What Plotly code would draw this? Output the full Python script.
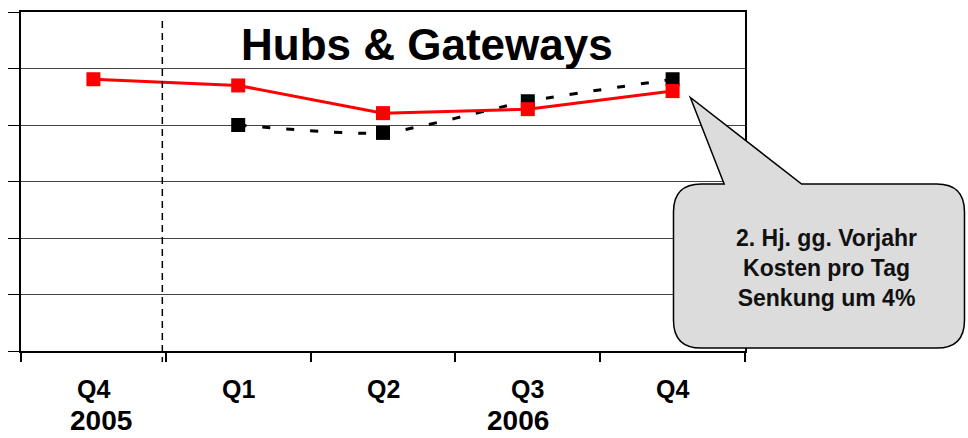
import plotly.graph_objects as go

# Quarter labels and the two cost series (cost per day, index units)
quarters = ["Q4", "Q1", "Q2", "Q3", "Q4"]
years = ["2005", "2006"]
actual = [4.81, 4.70, 4.21, 4.28, 4.60]          # red series
previous = [None, 4.00, 3.86, 4.42, 4.81]        # black dashed series
y_ticks = [0, 1, 2, 3, 4, 5, 6]
note_lines = ["2. Hj. gg. Vorjahr", "Kosten pro Tag", "Senkung um 4%"]

W, H = 968, 438
ML, MR, MT, MB = 16, 223, 10, 87
PW, PH = W - ML - MR, H - MT - MB
FONT = "Liberation Sans, Arial, sans-serif"


def px(x):
    return (x - ML) / PW


def py(y):
    return (H - MB - y) / PH


xpos = list(range(len(quarters)))

fig = go.Figure()
fig.add_trace(go.Scatter(
    x=xpos, y=previous, mode="lines+markers",
    line=dict(color="black", width=3, dash="8px,16px", shape="spline", smoothing=0.6),
    marker=dict(symbol="square", size=14, color="black"),
    connectgaps=False, showlegend=False, hoverinfo="skip",
))
fig.add_trace(go.Scatter(
    x=xpos, y=actual, mode="lines+markers",
    line=dict(color="#ff0000", width=3),
    marker=dict(symbol="square", size=14, color="#ff0000"),
    showlegend=False, hoverinfo="skip",
))

# Callout bubble with a pointer towards the last quarter
L, R, T, B, rad = 673, 966, 183, 348, 28
pts = [
    ("M", L + rad, T), ("L", 724, T), ("L", 690, 96), ("L", 802, T), ("L", R - rad, T),
    ("Q", R, T, R, T + rad), ("L", R, B - rad), ("Q", R, B, R - rad, B),
    ("L", L + rad, B), ("Q", L, B, L, B - rad), ("L", L, T + rad), ("Q", L, T, L + rad, T),
]
path = ""
for p in pts:
    cmd, coords = p[0], p[1:]
    pairs = [f"{px(coords[i]):.5f},{py(coords[i + 1]):.5f}" for i in range(0, len(coords), 2)]
    path += cmd + " " + " ".join(pairs) + " "
path += "Z"

shapes = [
    dict(type="line", xref="paper", yref="paper",
         x0=px(158.3), x1=px(158.3), y0=py(19), y1=py(362),
         line=dict(color="black", width=1.5, dash="7px,5px"), layer="above"),
    dict(type="path", xref="paper", yref="paper", path=path,
         fillcolor="#dcdcdc", line=dict(color="black", width=1.5), layer="above"),
]

annotations = [
    dict(text="<b>Hubs &amp; Gateways</b>", xref="paper", yref="paper",
         x=px(425), y=py(43), showarrow=False, xanchor="center", yanchor="middle",
         font=dict(family=FONT, size=44, color="black")),
    dict(text="<b>" + "<br>".join(note_lines) + "</b>", xref="paper", yref="paper",
         x=px(827), y=py(268), showarrow=False, xanchor="center", yanchor="middle",
         align="center", font=dict(family=FONT, size=23, color="#111111")),
]
for i, q in enumerate(quarters):
    annotations.append(dict(
        text=f"<b>{q}</b>", x=i, xref="x", y=py(389), yref="paper",
        showarrow=False, xanchor="center", yanchor="middle",
        font=dict(family=FONT, size=25, color="black")))
annotations.append(dict(
    text=f"<b>{years[0]}</b>", x=0, xref="x", xshift=8, y=py(421), yref="paper",
    showarrow=False, xanchor="center", yanchor="middle",
    font=dict(family=FONT, size=28, color="black")))
annotations.append(dict(
    text=f"<b>{years[1]}</b>", x=2.93, xref="x", y=py(420.5), yref="paper",
    showarrow=False, xanchor="center", yanchor="middle",
    font=dict(family=FONT, size=28, color="black")))

fig.update_layout(
    width=W, height=H,
    margin=dict(l=ML, r=MR, t=MT, b=MB, pad=0),
    paper_bgcolor="white", plot_bgcolor="white",
    shapes=shapes, annotations=annotations,
    xaxis=dict(range=[-0.5, len(quarters) - 0.5], tickvals=[i - 0.5 for i in range(len(quarters) + 1)],
               showticklabels=False, ticks="outside", ticklen=9, tickcolor="black", tickwidth=1.5,
               showgrid=False, zeroline=False, showline=True, linecolor="black", linewidth=1.5,
               mirror=True, fixedrange=True),
    yaxis=dict(range=[y_ticks[0], y_ticks[-1]], tickvals=y_ticks, showticklabels=False,
               ticks="outside", ticklen=11, tickcolor="black", tickwidth=1.2,
               showgrid=True, gridcolor="#444444", gridwidth=1, zeroline=False,
               showline=True, linecolor="black", linewidth=2, mirror=True, fixedrange=True),
)

fig.write_html("out.html", config={"displayModeBar": False})
